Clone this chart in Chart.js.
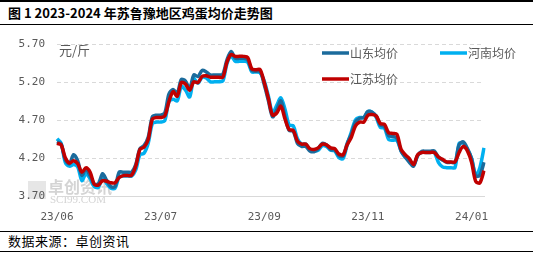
<!DOCTYPE html>
<html>
<head>
<meta charset="utf-8">
<script src="https://cdn.jsdelivr.net/npm/chart.js@4.4.0/dist/chart.umd.min.js"></script>
<style>
    body { margin: 0; width: 533px; height: 258px; background: #fff; overflow: hidden; position: relative; font-family: "Noto Sans CJK SC", sans-serif; }
    .title { position: absolute; left: 0; top: 0; width: 533px; height: 22px; border-top: 2px solid #000; border-bottom: 1.5px solid #000; }
    .title span { position: absolute; left: 8px; top: 3px; font-size: 13px; font-weight: bold; color: #000; line-height: 16px; }
    .foot { position: absolute; left: 0; top: 231px; width: 533px; height: 19px; border-top: 1.5px solid #000; border-bottom: 1.5px solid #000; }
    .foot span { position: absolute; left: 8px; top: 1px; font-size: 13px; color: #000; line-height: 16px; letter-spacing: 0.5px; }
    #wrap { position: absolute; left: 0; top: 26px; width: 533px; height: 204px; }
</style>
</head>
<body>
<div class="title"><span>图 1 2023-2024 年苏鲁豫地区鸡蛋均价走势图</span></div>
<div id="wrap"><canvas id="lineChart" width="533" height="204"></canvas></div>
<div class="foot"><span>数据来源：卓创资讯</span></div>
<script>
// series names
var names = ["山东均价", "河南均价", "江苏均价"];

// price, yuan per jin (daily points, jun 2023 - jan 2024)
var jiangsu = [4.40,4.38,4.21,4.14,4.17,4.13,4.02,4.08,4.02,3.86,
    3.85,3.91,3.90,3.88,3.88,3.95,3.975,3.975,3.98,4.10,
    4.32,4.35,4.45,4.72,4.74,4.74,4.76,4.95,5.08,5.02,
    5.20,5.18,5.10,5.21,5.20,5.28,5.29,5.27,5.27,5.27,
    5.27,5.47,5.57,5.545,5.545,5.545,5.53,5.38,5.37,5.37,
    5.20,4.99,4.77,4.80,4.89,4.72,4.58,4.57,4.43,4.39,
    4.39,4.33,4.32,4.34,4.39,4.38,4.34,4.33,4.26,4.25,
    4.38,4.48,4.63,4.68,4.68,4.77,4.78,4.76,4.66,4.65,
    4.54,4.53,4.52,4.32,4.25,4.20,4.12,4.25,4.28,4.28,
    4.28,4.28,4.22,4.19,4.155,4.155,4.155,4.28,4.36,4.30,
    4.15,3.90,3.88,4.04];

var shandong = [4.42,4.39,4.18,4.13,4.25,4.17,3.98,4.06,3.97,3.86,
    3.87,4.00,3.91,3.83,3.83,4.02,4.02,4.02,4.02,4.12,
    4.33,4.37,4.48,4.75,4.77,4.77,4.80,5.05,5.11,5.06,
    5.24,5.22,5.12,5.30,5.28,5.36,5.34,5.30,5.30,5.30,
    5.31,5.50,5.61,5.52,5.52,5.52,5.50,5.36,5.35,5.35,
    5.17,4.96,4.75,4.84,4.96,4.75,4.57,4.56,4.40,4.36,
    4.36,4.30,4.29,4.33,4.40,4.38,4.32,4.31,4.24,4.23,
    4.40,4.52,4.68,4.73,4.74,4.82,4.81,4.76,4.64,4.62,
    4.50,4.49,4.47,4.30,4.22,4.15,4.10,4.24,4.295,4.295,
    4.295,4.30,4.22,4.18,4.15,4.15,4.15,4.38,4.42,4.33,
    4.20,3.97,3.98,4.15];

var henan = [4.46,4.40,4.15,4.10,4.12,4.09,3.91,4.00,3.93,3.83,
    3.82,3.95,3.87,3.81,3.81,3.96,3.97,3.97,3.97,4.05,
    4.25,4.27,4.40,4.66,4.68,4.68,4.70,4.95,4.98,4.96,
    5.15,5.10,5.01,5.25,5.19,5.27,5.26,5.21,5.21,5.21,
    5.22,5.45,5.55,5.48,5.48,5.48,5.47,5.34,5.34,5.33,
    5.22,5.02,4.80,4.90,5.00,4.85,4.64,4.63,4.46,4.39,
    4.39,4.32,4.30,4.31,4.37,4.36,4.31,4.30,4.21,4.20,
    4.38,4.55,4.71,4.74,4.74,4.82,4.81,4.74,4.61,4.60,
    4.45,4.44,4.44,4.30,4.22,4.17,4.11,4.24,4.28,4.28,
    4.28,4.28,4.15,4.09,4.08,4.08,4.08,4.40,4.40,4.32,
    4.20,3.98,4.08,4.34];

// x axis labels and the points they sit on
var tickNames = ["23/06", "23/07", "23/09", "23/11", "24/01"];
var tickIdx = [0, 25, 50, 75, 100];
var yTicks = [3.70, 4.20, 4.70, 5.20, 5.70];

var days = jiangsu.map(function (v, i) { return i; });
var colors = ["#1b6b9c", "#00b0f0", "#c00000"];

// legend + unit text + watermark drawn straight on the canvas
var extras = {
    id: "extras",
    beforeDraw: function (chart) {
        // watermark sits under the axes and lines
        var ctx = chart.ctx;
        ctx.save();
        ctx.fillStyle = "#e6e6e6";
        ctx.fillRect(28, 155, 18, 18);
        ctx.fillStyle = "#d4d4d4";
        ctx.font = "bold 16px 'Noto Sans CJK SC'";
        ctx.textBaseline = "middle";
        ctx.fillText("卓创资讯", 48, 161);
        ctx.font = "11px 'Liberation Serif'";
        ctx.fillText("SCI99.COM", 50, 174);
        ctx.restore();
    },
    afterDraw: function (chart) {
        var ctx = chart.ctx;
        ctx.save();
        ctx.textBaseline = "middle";
        ctx.fillStyle = "#595959";
        ctx.font = "13px 'Noto Sans CJK SC'";
        ctx.fillText("元/斤", 59, 24);
        var items = [
            { x: 322, y: 27, c: colors[0], t: names[0] },
            { x: 440, y: 27, c: colors[1], t: names[1] },
            { x: 322, y: 53, c: colors[2], t: names[2] }
        ];
        ctx.font = "12px 'Noto Sans CJK SC'";
        items.forEach(function (it) {
            ctx.strokeStyle = it.c;
            ctx.lineWidth = 3.5;
            ctx.beginPath();
            ctx.moveTo(it.x, it.y);
            ctx.lineTo(it.x + 27, it.y);
            ctx.stroke();
            ctx.fillText(it.t, it.x + 28, it.y);
        });
        ctx.restore();
    }
};

var lineCtx = document.getElementById("lineChart").getContext("2d");
var lineChart = new Chart(lineCtx, {
    type: "line",
    data: {
        labels: days,
        datasets: [
            { label: names[2], data: jiangsu, borderColor: colors[2], order: 0 },
            { label: names[0], data: shandong, borderColor: colors[0], order: 1 },
            { label: names[1], data: henan, borderColor: colors[1], order: 2 }
        ]
    },
    options: {
        responsive: false,
        animation: false,
        devicePixelRatio: 1,
        layout: { padding: { top: 13, right: 49, left: 0, bottom: 0 } },
        elements: {
            line: { borderWidth: 3.5, tension: 0.3, fill: false },
            point: { radius: 0 }
        },
        plugins: {
            legend: { display: false },
            tooltip: { enabled: false }
        },
        scales: {
            x: {
                grid: { display: false },
                border: { display: true, color: "#d9d9d9", width: 1 },
                afterBuildTicks: function (scale) {
                    scale.ticks = tickIdx.map(function (i) { return { value: i }; });
                },
                afterFit: function (scale) { scale.height = 33.5; },
                ticks: {
                    autoSkip: false,
                    maxRotation: 0,
                    padding: 6,
                    color: "#595959",
                    font: { family: "'DejaVu Sans Mono'", size: 11 },
                    callback: function (v, i) { return tickNames[i]; }
                }
            },
            y: {
                min: 3.70,
                max: 5.70,
                grid: { color: "#d9d9d9", drawTicks: false },
                border: { display: false, dash: [4, 3] },
                afterBuildTicks: function (scale) {
                    scale.ticks = yTicks.map(function (v) { return { value: v }; });
                },
                afterFit: function (scale) { scale.width = 57; },
                ticks: {
                    padding: 12,
                    color: "#595959",
                    font: { family: "'DejaVu Sans Mono'", size: 11 },
                    callback: function (v) { return v.toFixed(2); }
                }
            }
        }
    },
    plugins: [extras]
});
</script>
</body>
</html>
